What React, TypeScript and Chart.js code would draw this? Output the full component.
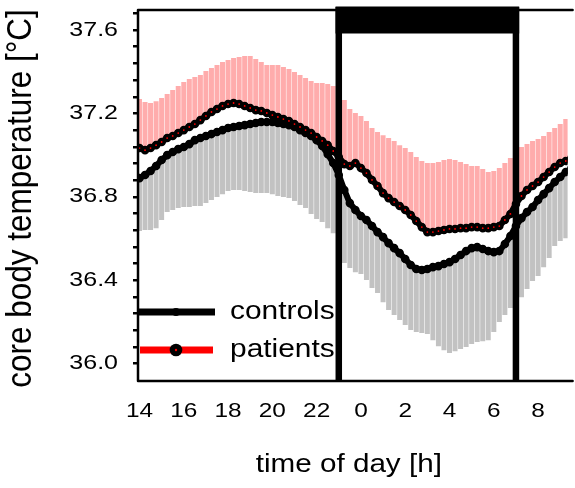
import React, { useEffect, useRef } from 'react';
import { Chart, registerables } from 'chart.js';

Chart.register(...registerables);

// Clock time in hours since midnight of day 1 (24 = 0:00 next day), every 15 min.
const hours = [
  14, 14.25, 14.5, 14.75, 15, 15.25, 15.5, 15.75, 16, 16.25,
  16.5, 16.75, 17, 17.25, 17.5, 17.75, 18, 18.25, 18.5, 18.75,
  19, 19.25, 19.5, 19.75, 20, 20.25, 20.5, 20.75, 21, 21.25,
  21.5, 21.75, 22, 22.25, 22.5, 22.75, 23, 23.25, 23.5, 23.75,
  24, 24.25, 24.5, 24.75, 25, 25.25, 25.5, 25.75, 26, 26.25,
  26.5, 26.75, 27, 27.25, 27.5, 27.75, 28, 28.25, 28.5, 28.75,
  29, 29.25, 29.5, 29.75, 30, 30.25, 30.5, 30.75, 31, 31.25,
  31.5, 31.75, 32, 32.25, 32.5, 32.75, 33, 33.25, 33.5,
];

// Mean core body temperature of patients [°C]
const patientsMean = [
  37.034, 37.024, 37.034, 37.048, 37.063, 37.082, 37.092, 37.106, 37.12, 37.135,
  37.149, 37.168, 37.188, 37.207, 37.221, 37.236, 37.245, 37.25, 37.245, 37.236,
  37.226, 37.216, 37.212, 37.202, 37.192, 37.183, 37.173, 37.164, 37.149, 37.135,
  37.12, 37.106, 37.087, 37.068, 37.048, 37.02, 36.991, 36.957, 36.948, 36.962,
  36.938, 36.914, 36.881, 36.852, 36.818, 36.794, 36.775, 36.756, 36.737, 36.713,
  36.684, 36.655, 36.631, 36.631, 36.636, 36.641, 36.646, 36.646, 36.65, 36.65,
  36.655, 36.655, 36.65, 36.65, 36.655, 36.66, 36.689, 36.718, 36.766, 36.804,
  36.833, 36.852, 36.871, 36.895, 36.919, 36.943, 36.962, 36.972, 36.986,
];

// Patients: mean + SD (upper error bar end)
const patientsUpper = [
  37.269, 37.255, 37.25, 37.259, 37.274, 37.293, 37.312, 37.331, 37.351, 37.365,
  37.375, 37.384, 37.403, 37.418, 37.432, 37.447, 37.456, 37.466, 37.471, 37.475,
  37.475, 37.461, 37.447, 37.432, 37.432, 37.432, 37.423, 37.413, 37.399, 37.384,
  37.37, 37.355, 37.346, 37.346, 37.341, 37.331, 37.298, 37.264, 37.221, 37.202,
  37.188, 37.164, 37.13, 37.111, 37.096, 37.082, 37.068, 37.048, 37.034, 37.015,
  36.991, 36.972, 36.962, 36.962, 36.967, 36.977, 36.981, 36.977, 36.967, 36.957,
  36.948, 36.948, 36.933, 36.919, 36.924, 36.938, 36.962, 36.986, 37.024, 37.039,
  37.053, 37.068, 37.077, 37.092, 37.111, 37.13, 37.149, 37.173, 37.188,
];

// Mean core body temperature of controls [°C]
const controlsMean = [
  36.89, 36.905, 36.924, 36.948, 36.977, 37.0, 37.015, 37.029, 37.039, 37.053,
  37.072, 37.082, 37.092, 37.101, 37.111, 37.12, 37.13, 37.135, 37.14, 37.144,
  37.149, 37.154, 37.159, 37.159, 37.159, 37.154, 37.149, 37.144, 37.135, 37.12,
  37.106, 37.092, 37.072, 37.044, 37.005, 36.962, 36.905, 36.833, 36.77, 36.737,
  36.708, 36.689, 36.66, 36.631, 36.607, 36.578, 36.554, 36.53, 36.502, 36.473,
  36.454, 36.449, 36.454, 36.463, 36.468, 36.478, 36.487, 36.502, 36.521, 36.54,
  36.554, 36.559, 36.55, 36.54, 36.535, 36.54, 36.574, 36.612, 36.66, 36.698,
  36.727, 36.751, 36.785, 36.813, 36.842, 36.871, 36.895, 36.919, 36.938,
];

// Controls: mean - SD (lower error bar end)
const controlsLower = [
  36.636, 36.641, 36.641, 36.65, 36.689, 36.727, 36.737, 36.746, 36.751, 36.751,
  36.756, 36.756, 36.77, 36.785, 36.799, 36.813, 36.828, 36.833, 36.833, 36.828,
  36.823, 36.818, 36.818, 36.818, 36.813, 36.804, 36.799, 36.794, 36.78, 36.761,
  36.746, 36.718, 36.694, 36.679, 36.65, 36.626, 36.569, 36.483, 36.459, 36.439,
  36.43, 36.401, 36.363, 36.339, 36.295, 36.257, 36.233, 36.209, 36.185, 36.161,
  36.152, 36.147, 36.142, 36.113, 36.084, 36.065, 36.051, 36.06, 36.07, 36.08,
  36.094, 36.104, 36.108, 36.113, 36.152, 36.2, 36.233, 36.267, 36.291, 36.319,
  36.358, 36.396, 36.42, 36.463, 36.507, 36.564, 36.588, 36.602, 36.612,
];

const xTickHours = [14, 16, 18, 20, 22, 24, 26, 28, 30, 32];
const xTickLabels = ['14', '16', '18', '20', '22', '0', '2', '4', '6', '8'];
const yTickLabels = ['36.0', '36.4', '36.8', '37.2', '37.6'];
const yMinorStep = 0.08;

// Night period (lights off) 23:00 - 7:00
const nightStart = 23;
const nightEnd = 31;

const seriesNames = ['controls', 'patients'];
const xTitle = 'time of day [h]';
const yTitle = 'core body temperature [°C]';

const FONT = "'Liberation Sans', Arial, Helvetica, sans-serif";

function drawText(
  ctx: CanvasRenderingContext2D,
  text: string,
  x: number,
  y: number,
  size: number,
  sx: number,
  align: CanvasTextAlign,
  rotate = false,
) {
  ctx.save();
  ctx.translate(x, y);
  ctx.scale(sx, 1);
  if (rotate) ctx.rotate(-Math.PI / 2);
  ctx.font = `${size}px ${FONT}`;
  ctx.textAlign = align;
  ctx.textBaseline = 'middle';
  ctx.fillStyle = '#000';
  ctx.fillText(text, 0, 0);
  ctx.restore();
}

const decorations = {
  id: 'decorations',
  afterDatasetsDraw(chart: any) {
    const { ctx, chartArea: ca, scales } = chart;
    const xs = scales.x;
    const ys = scales.y;
    ctx.save();

    // night markers: two thick verticals joined by a bar along the top
    const xa = xs.getPixelForValue(nightStart);
    const xb = xs.getPixelForValue(nightEnd);
    ctx.fillStyle = '#000';
    ctx.fillRect(xa - 3.25, ca.top - 3, 6.5, ca.bottom - ca.top + 3);
    ctx.fillRect(xb - 3.25, ca.top - 3, 6.5, ca.bottom - ca.top + 3);
    ctx.fillRect(xa - 3.25, ca.top - 3.5, xb - xa + 6.5, 27);

    // axes frame (open on the right)
    ctx.strokeStyle = '#000';
    ctx.lineJoin = 'round';
    ctx.lineCap = 'round';
    ctx.lineWidth = 2.5;
    ctx.beginPath();
    ctx.moveTo(ca.right + 5, ca.top);
    ctx.lineTo(ca.left, ca.top);
    ctx.lineTo(ca.left, ca.bottom);
    ctx.lineTo(ca.right + 5, ca.bottom);
    ctx.stroke();

    // legend
    const lx = ca.left;
    const rows = [ca.bottom - 69, ca.bottom - 31];
    ctx.lineCap = 'butt';
    ctx.lineWidth = 7;
    ctx.strokeStyle = '#000';
    ctx.beginPath();
    ctx.moveTo(lx, rows[0]);
    ctx.lineTo(lx + 77, rows[0]);
    ctx.stroke();
    ctx.beginPath();
    ctx.arc(lx + 38, rows[0], 4, 0, Math.PI * 2);
    ctx.fillStyle = '#000';
    ctx.fill();

    ctx.strokeStyle = '#ff0000';
    ctx.beginPath();
    ctx.moveTo(lx + 2, rows[1]);
    ctx.lineTo(lx + 75, rows[1]);
    ctx.stroke();
    ctx.beginPath();
    ctx.arc(lx + 38, rows[1], 6.3, 0, Math.PI * 2);
    ctx.fillStyle = '#000';
    ctx.fill();
    ctx.beginPath();
    ctx.arc(lx + 38, rows[1], 1.2, 0, Math.PI * 2);
    ctx.fillStyle = '#ff0000';
    ctx.fill();

    drawText(ctx, seriesNames[0], lx + 92, rows[0], 26, 1.15, 'left');
    drawText(ctx, seriesNames[1], lx + 92, rows[1], 26, 1.15, 'left');

    // tick labels
    xTickHours.forEach((h, i) => {
      drawText(ctx, xTickLabels[i], xs.getPixelForValue(h), ca.bottom + 30, 20, 1.22, 'center');
    });
    yTickLabels.forEach((lab) => {
      drawText(ctx, lab, ca.left - 20, ys.getPixelForValue(parseFloat(lab)), 20, 1.25, 'right');
    });

    // axis titles
    drawText(ctx, xTitle, (ca.left + ca.right) / 2 - 4, ca.bottom + 84, 26, 1.14, 'center');
    drawText(ctx, yTitle, 21, (ca.top + ca.bottom) / 2 + 3, 31.5, 1.12, 'center', true);

    ctx.restore();
  },
};

export default function App() {
  const ref = useRef<HTMLCanvasElement | null>(null);

  useEffect(() => {
    document.body.style.margin = '0';
    const canvas = ref.current;
    if (!canvas) return;

    const pts = (vals: number[]) => hours.map((h, i) => ({ x: h, y: vals[i] }));
    const ranges = (a: number[], b: number[]) => hours.map((h, i) => ({ x: h, y: [a[i], b[i]] }));

    const yTicks: number[] = [];
    for (let k = 0; k <= 21; k++) yTicks.push(+(36 + k * yMinorStep).toFixed(2));

    const chart = new Chart(canvas, {
      type: 'bar',
      data: {
        datasets: [
          {
            type: 'line',
            label: seriesNames[1],
            data: pts(patientsMean),
            borderColor: '#000',
            borderWidth: 6,
            pointRadius: 2.6,
            pointBorderWidth: 3.4,
            pointBorderColor: '#000',
            pointBackgroundColor: '#ff0000',
            order: 1,
          },
          {
            type: 'line',
            label: seriesNames[0],
            data: pts(controlsMean),
            borderColor: '#000',
            borderWidth: 6,
            pointRadius: 2.6,
            pointBorderWidth: 3.4,
            pointBorderColor: '#000',
            pointBackgroundColor: '#000',
            order: 2,
          },
          {
            type: 'bar',
            label: 'patients SD',
            data: ranges(patientsMean, patientsUpper) as any,
            backgroundColor: 'rgb(255,172,172)',
            barThickness: 5,
            grouped: false,
            inflateAmount: 0,
            order: 3,
          },
          {
            type: 'bar',
            label: 'controls SD',
            data: ranges(controlsLower, controlsMean) as any,
            backgroundColor: 'rgb(194,194,194)',
            barThickness: 5,
            grouped: false,
            inflateAmount: 0,
            order: 4,
          },
        ] as any,
      },
      options: {
        responsive: false,
        animation: false,
        devicePixelRatio: 1,
        layout: { padding: { top: 10, left: 0, right: 0, bottom: 0 } },
        plugins: { legend: { display: false }, tooltip: { enabled: false } },
        scales: {
          x: {
            type: 'linear',
            min: 13.933,
            max: 33.333,
            offset: false,
            grid: { display: false, drawTicks: false },
            border: { display: false },
            ticks: { callback: () => '' },
            afterBuildTicks: (s: any) => {
              s.ticks = xTickHours.map((v) => ({ value: v }));
            },
            afterFit: (s: any) => {
              s.height = 107;
            },
          },
          y: {
            type: 'linear',
            min: 35.917,
            max: 37.696,
            beginAtZero: false,
            grid: {
              drawOnChartArea: false,
              drawTicks: true,
              tickLength: 5,
              lineWidth: 2.5,
              color: '#000',
            },
            border: { display: false },
            ticks: { callback: () => '', padding: 0 },
            afterBuildTicks: (s: any) => {
              s.ticks = yTicks.map((v) => ({ value: v }));
            },
            afterFit: (s: any) => {
              s.width = 138;
            },
          },
        },
      } as any,
      plugins: [decorations],
    });

    return () => chart.destroy();
  }, []);

  return (
    <canvas
      ref={ref}
      width={575}
      height={488}
      style={{ display: 'block', width: 575, height: 488 }}
    />
  );
}
